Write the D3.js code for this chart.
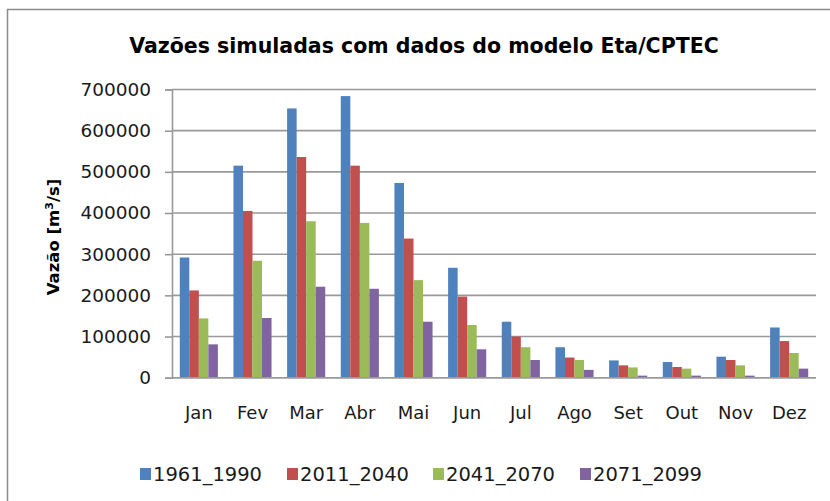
<!DOCTYPE html>
<html><head><meta charset="utf-8">
<script src="https://cdn.jsdelivr.net/npm/d3@7"></script>
<style>body{margin:0;background:#fff}svg{display:block}</style>
</head><body>
<script>
const months = ["Jan","Fev","Mar","Abr","Mai","Jun","Jul","Ago","Set","Out","Nov","Dez"];
const seriesNames = ["1961_1990","2011_2040","2041_2070","2071_2099"];
const s1961 = [292000,515000,654000,684000,473000,267000,136000,74000,42000,38000,51000,122000];
const s2011 = [212000,405000,536000,515000,338000,197000,100000,49000,30000,26000,43000,89000];
const s2041 = [144000,284000,380000,376000,237000,128000,74000,43000,25000,22000,30000,60000];
const s2071 = [81000,145000,221000,216000,136000,69000,43000,19000,5000,5000,5000,22000];
const yTicks = [0,100000,200000,300000,400000,500000,600000,700000];
const colors = ["#4F81BD","#C0504D","#9BBB59","#8064A2"];
const allSeries = [s1961,s2011,s2041,s2071];

const W=830,H=501;
const svg=d3.select("body").append("svg").attr("width",W).attr("height",H);
const font="DejaVu Sans, Verdana, sans-serif";
svg.append("rect").attr("x",7.5).attr("y",9.5).attr("width",840).attr("height",520)
  .attr("fill","#fff").attr("stroke","#8c8c8c").attr("stroke-width",1.5);

const L=172,R=816,T=89.5,B=377.7;
const x=d3.scaleBand().domain(months).range([L,R]).paddingInner(0.29).paddingOuter(0.145);
const xs=d3.scaleBand().domain(seriesNames).range([0,x.bandwidth()]);
const y=d3.scaleLinear().domain([0,700000]).range([B,T]);

// gridlines
svg.append("g").selectAll("line").data(yTicks).join("line")
  .attr("x1",L).attr("x2",R).attr("y1",d=>y(d)).attr("y2",d=>y(d))
  .attr("stroke","#999").attr("stroke-width",1.6);

// bars
months.forEach((m,i)=>{
  seriesNames.forEach((s,j)=>{
    svg.append("rect").attr("x",x(m)+xs(s)).attr("y",y(allSeries[j][i]))
      .attr("width",xs.bandwidth()).attr("height",B-y(allSeries[j][i]))
      .attr("fill",colors[j]);
  });
});

// y axis
const ya=svg.append("g").attr("transform",`translate(${L},0)`)
  .call(d3.axisLeft(y).tickValues(yTicks).tickFormat(d3.format("d")).tickSize(7).tickPadding(14));
ya.select(".domain").attr("stroke","#999").attr("stroke-width",1.6);
ya.selectAll(".tick line").attr("stroke","#999").attr("stroke-width",1.6);
ya.selectAll("text").attr("font-family",font).attr("font-size",18.5).attr("fill","#1a1a1a");

// x axis
const xa=svg.append("g").attr("transform",`translate(0,${B})`)
  .call(d3.axisBottom(x).tickSize(0).tickPadding(29));
xa.select(".domain").attr("stroke","#999").attr("stroke-width",1.6).attr("d",`M${L},0H${R}`);
xa.selectAll("text").attr("font-family",font).attr("font-size",18).attr("fill","#1a1a1a");

// title
svg.append("text").attr("x",424).attr("y",53).attr("text-anchor","middle")
  .attr("font-family",font).attr("font-weight","bold").attr("font-size",20.5)
  .attr("fill","#000").text("Vazões simuladas com dados do modelo Eta/CPTEC");

// y title
const yt=svg.append("text").attr("transform","translate(59,237) rotate(-90)")
  .attr("text-anchor","middle").attr("font-family",font).attr("font-weight","bold")
  .attr("font-size",16.5).attr("fill","#000");
yt.append("tspan").text("Vazão [m");
yt.append("tspan").attr("font-size",11).attr("dy",-6).text("3");
yt.append("tspan").attr("dy",6).text("/s]");

// legend
const legX=[140,287,433,580];
seriesNames.forEach((s,j)=>{
  const g=svg.append("g").attr("transform",`translate(${legX[j]},474)`);
  g.append("rect").attr("x",0).attr("y",-6).attr("width",11).attr("height",12).attr("fill",colors[j]);
  g.append("text").attr("x",13).attr("y",7).attr("font-family",font).attr("font-size",19.5)
    .attr("fill","#1a1a1a").text(s);
});
</script>
</body></html>
